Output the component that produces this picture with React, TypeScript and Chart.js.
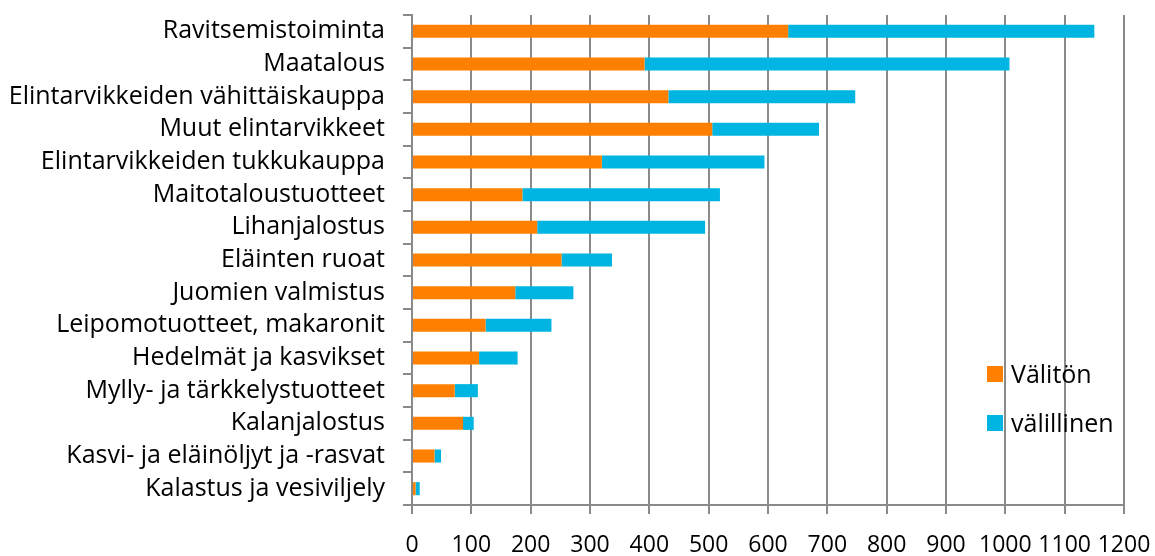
import React, { useEffect, useRef } from "react";
import { Chart, registerables } from "chart.js";

Chart.register(...registerables);

const categories = [
  "Ravitsemistoiminta",
  "Maatalous",
  "Elintarvikkeiden vähittäiskauppa",
  "Muut elintarvikkeet",
  "Elintarvikkeiden tukkukauppa",
  "Maitotaloustuotteet",
  "Lihanjalostus",
  "Eläinten ruoat",
  "Juomien valmistus",
  "Leipomotuotteet, makaronit",
  "Hedelmät ja kasvikset",
  "Mylly- ja tärkkelystuotteet",
  "Kalanjalostus",
  "Kasvi- ja eläinöljyt ja -rasvat",
  "Kalastus ja vesiviljely",
];

const valiton = [634, 392, 432, 506, 320, 186, 211, 252, 174, 124, 113, 72, 86, 38, 6];
const valillinen = [516, 615, 315, 180, 274, 333, 283, 85, 98, 111, 65, 39, 18, 11, 7];

const seriesNames = ["Välitön", "välillinen"];
const seriesColors = ["#FF8000", "#00B5E2"];

const xMin = 0;
const xMax = 1200;
const xStep = 100;

const FONT = "'Open Sans', 'Noto Sans', sans-serif";
const GRID = "#8a8a8a";

const insideLegend = {
  id: "insideLegend",
  afterDatasetsDraw(chart: any) {
    const ctx = chart.ctx;
    const x0 = 987;
    const ys = [366, 415];
    ctx.save();
    ctx.font = `25px ${FONT}`;
    ctx.textBaseline = "alphabetic";
    ctx.textAlign = "left";
    chart.data.datasets.forEach((ds: any, i: number) => {
      ctx.fillStyle = ds.backgroundColor;
      ctx.fillRect(x0, ys[i], 16, 16);
      ctx.fillStyle = "#000";
      ctx.fillText(ds.label, x0 + 24, ys[i] + 17);
    });
    ctx.restore();
  },
};

export default function App() {
  const ref = useRef<HTMLCanvasElement | null>(null);
  useEffect(() => {
    if (!ref.current) return;
    const chart = new Chart(ref.current, {
      type: "bar",
      data: {
        labels: categories,
        datasets: [
          { label: seriesNames[0], data: valiton, backgroundColor: seriesColors[0], borderWidth: 0 },
          { label: seriesNames[1], data: valillinen, backgroundColor: seriesColors[1], borderWidth: 0 },
        ],
      },
      options: {
        indexAxis: "y",
        animation: false,
        responsive: false,
        maintainAspectRatio: false,
        layout: { padding: { top: 15, right: 31, bottom: 0, left: 0 } },
        datasets: { bar: { barPercentage: 0.4, categoryPercentage: 1 } },
        plugins: {
          legend: { display: false },
          tooltip: { enabled: false },
        },
        scales: {
          x: {
            type: "linear",
            stacked: true,
            min: xMin,
            max: xMax,
            ticks: {
              stepSize: xStep,
              color: "#000",
              font: { family: FONT, size: 23 },
              padding: 18,
              maxRotation: 0,
              minRotation: 0,
              autoSkip: false,
              callback: (v: any) => String(v),
            },
            grid: { color: GRID, lineWidth: 2, tickLength: 9, drawTicks: true },
            border: { color: GRID, width: 2 },
            afterFit: (scale: any) => {
              scale.paddingLeft = 0;
              scale.paddingRight = 0;
              scale.height = 51;
            },
          },
          y: {
            stacked: true,
            ticks: { color: "#000", font: { family: FONT, size: 25 }, padding: 18, autoSkip: false },
            grid: { offset: true, drawOnChartArea: false, tickLength: 9, color: GRID, lineWidth: 2 },
            border: { color: GRID, width: 2 },
            afterFit: (scale: any) => {
              scale.width = 412;
              scale.paddingTop = 0;
              scale.paddingBottom = 0;
            },
          },
        },
      },
      plugins: [insideLegend],
    });
    return () => chart.destroy();
  }, []);
  return (
    <div style={{ position: "fixed", left: 0, top: 0, width: 1155, height: 556 }}>
      <canvas ref={ref} width={1155} height={556} />
    </div>
  );
}
